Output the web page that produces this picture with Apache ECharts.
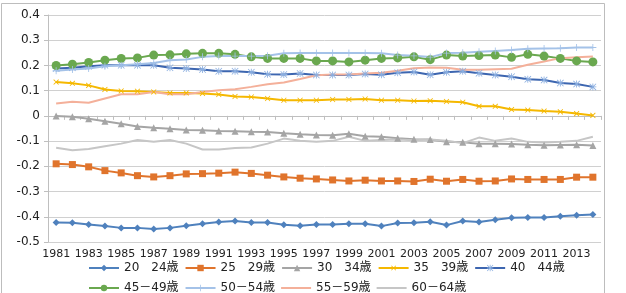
<!DOCTYPE html>
<html lang="ja">
<head>
<meta charset="UTF-8">
<title>年齢階級別</title>
<script src="https://cdn.jsdelivr.net/npm/echarts@6/dist/echarts.min.js"></script>
<style>
  html, body { margin: 0; padding: 0; background: #fff; }
  #main { width: 626px; height: 293px; }
</style>
</head>
<body>
<div id="main"></div>
<script type="text/javascript">
// 年 (1981-2014)
var years = [];
for (var y = 1981; y <= 2014; y++) { years.push(String(y)); }

var names = ['20　24歳', '25　29歳', '30　34歳', '35　39歳', '40　44歳',
             '45－49歳', '50－54歳', '55－59歳', '60－64歳'];

var age20 = [-0.423, -0.424, -0.431, -0.437, -0.444, -0.444, -0.448, -0.444, -0.436, -0.428,
             -0.421, -0.417, -0.423, -0.423, -0.432, -0.436, -0.431, -0.431, -0.428, -0.428,
             -0.437, -0.425, -0.424, -0.420, -0.433, -0.417, -0.421, -0.412, -0.404, -0.403,
             -0.403, -0.398, -0.394, -0.391];
var age25 = [-0.190, -0.193, -0.202, -0.217, -0.226, -0.237, -0.242, -0.237, -0.230, -0.229,
             -0.227, -0.223, -0.228, -0.235, -0.242, -0.247, -0.250, -0.254, -0.258, -0.255,
             -0.258, -0.258, -0.260, -0.251, -0.259, -0.252, -0.259, -0.258, -0.250, -0.252,
             -0.252, -0.252, -0.243, -0.243];
var age30 = [0.000, -0.003, -0.011, -0.021, -0.031, -0.042, -0.047, -0.051, -0.056, -0.057,
             -0.060, -0.061, -0.063, -0.064, -0.069, -0.073, -0.076, -0.077, -0.071, -0.081,
             -0.083, -0.089, -0.093, -0.094, -0.103, -0.105, -0.110, -0.110, -0.111, -0.114,
             -0.116, -0.115, -0.114, -0.117];
var age35 = [0.134, 0.129, 0.121, 0.105, 0.099, 0.098, 0.095, 0.091, 0.091, 0.089,
             0.085, 0.077, 0.075, 0.069, 0.062, 0.062, 0.062, 0.065, 0.065, 0.067,
             0.062, 0.062, 0.059, 0.060, 0.057, 0.054, 0.038, 0.038, 0.025, 0.023,
             0.019, 0.016, 0.009, 0.002];
var age40 = [0.188, 0.191, 0.197, 0.201, 0.201, 0.201, 0.201, 0.191, 0.188, 0.184,
             0.177, 0.177, 0.173, 0.165, 0.164, 0.168, 0.162, 0.162, 0.162, 0.166,
             0.163, 0.171, 0.174, 0.163, 0.173, 0.177, 0.169, 0.162, 0.155, 0.145,
             0.142, 0.130, 0.126, 0.115];
var age45 = [0.200, 0.205, 0.212, 0.221, 0.228, 0.230, 0.241, 0.242, 0.246, 0.248,
             0.248, 0.244, 0.234, 0.228, 0.228, 0.228, 0.218, 0.218, 0.214, 0.221,
             0.228, 0.230, 0.234, 0.223, 0.241, 0.237, 0.239, 0.241, 0.232, 0.244,
             0.237, 0.228, 0.218, 0.214];
var age50 = [0.179, 0.184, 0.188, 0.197, 0.201, 0.205, 0.210, 0.221, 0.224, 0.234,
             0.237, 0.237, 0.237, 0.238, 0.248, 0.249, 0.249, 0.249, 0.249, 0.249,
             0.248, 0.241, 0.238, 0.233, 0.249, 0.250, 0.254, 0.257, 0.261, 0.266,
             0.267, 0.268, 0.271, 0.271];
var age55 = [0.049, 0.056, 0.052, 0.069, 0.086, 0.086, 0.095, 0.086, 0.086, 0.095,
             0.102, 0.106, 0.115, 0.125, 0.132, 0.146, 0.161, 0.164, 0.164, 0.168,
             0.171, 0.179, 0.189, 0.192, 0.191, 0.183, 0.183, 0.185, 0.187, 0.203,
             0.216, 0.229, 0.232, 0.235];
var age60 = [-0.126, -0.136, -0.131, -0.120, -0.110, -0.096, -0.103, -0.096, -0.110, -0.133,
             -0.133, -0.127, -0.125, -0.110, -0.090, -0.099, -0.103, -0.099, -0.083, -0.099,
             -0.096, -0.094, -0.097, -0.094, -0.099, -0.108, -0.086, -0.099, -0.090, -0.103,
             -0.106, -0.103, -0.099, -0.083];

var yMin = -0.5, yMax = 0.4, yStep = 0.1;

var FONT = "'DejaVu Sans', 'Noto Sans CJK JP', sans-serif";

// マーカー
var symPlus = 'path://M4.4,0h1.2v4.4h4.4v1.2h-4.4v4.4h-1.2v-4.4h-4.4v-1.2h4.4z';
var symStar = 'path://M4.4,0h1.2v10h-1.2z M0,4.4h10v1.2h-10z M0.8,0L10,9.2L9.2,10L0,0.8z M9.2,0L10,0.8L0.8,10L0,9.2z';
// 凡例用（マーカーなしの線）
var iconLine = 'path://M0,0h30v2h-30z';

var myChart = echarts.init(document.getElementById('main'));

function lineSeries(name, data, color, symbol, size, symColor, width) {
    return {
        name: name,
        type: 'line',
        data: data,
        symbol: symbol,
        symbolSize: size,
        showSymbol: symbol !== 'none',
        lineStyle: { color: color, width: width || 2 },
        itemStyle: { color: symColor || color, borderWidth: 0 },
        emphasis: { disabled: true },
        animation: false
    };
}

var legendText = { fontSize: 12, color: '#222', fontFamily: FONT };

var option = {
    backgroundColor: '#fff',
    textStyle: { fontFamily: FONT },
    grid: { left: 48, right: 25, top: 15, bottom: 51 },
    xAxis: {
        type: 'category',
        data: years,
        boundaryGap: true,
        axisLine: { onZero: true, lineStyle: { color: '#bfbfbf', width: 1 } },
        axisTick: { show: true, interval: 0, length: 4, lineStyle: { color: '#bfbfbf' } },
        axisLabel: { interval: 1, color: '#222', fontSize: 11, fontFamily: FONT, margin: 7 },
        splitLine: { show: false }
    },
    yAxis: {
        type: 'value',
        min: yMin,
        max: yMax,
        interval: yStep,
        axisLine: { show: true, lineStyle: { color: '#bfbfbf' } },
        axisTick: { show: true, length: 4, lineStyle: { color: '#bfbfbf' } },
        axisLabel: {
            color: '#222', fontSize: 12, fontFamily: FONT, margin: 8,
            formatter: function (v) { return String(Math.round(v * 10) / 10); }
        },
        splitLine: { lineStyle: { color: '#d0d0d0', width: 1 } }
    },
    legend: [
        {
            data: names.slice(0, 5),
            left: 83, top: 257,
            itemWidth: 30, itemHeight: 8, itemGap: 6,
            textStyle: legendText
        },
        {
            data: [
                names[5],
                names[6],
                { name: names[7], icon: iconLine },
                { name: names[8], icon: iconLine }
            ],
            left: 83, top: 277,
            itemWidth: 30, itemHeight: 8, itemGap: 6,
            textStyle: legendText
        }
    ],
    graphic: [
        {
            type: 'rect', silent: true,
            shape: { x: 1.5, y: 3.5, width: 603, height: 300 },
            style: { fill: 'none', stroke: '#bdbdbd', lineWidth: 1 }
        }
    ],
    series: [
        lineSeries(names[0], age20, '#4f81bd', 'diamond', 7),
        lineSeries(names[1], age25, '#e0742c', 'rect', 7),
        lineSeries(names[2], age30, '#a5a5a5', 'triangle', 7),
        lineSeries(names[3], age35, '#f5b800', symPlus, 7, '#f5b800'),
        lineSeries(names[4], age40, '#3d66b0', symStar, 7, '#8aaee0'),
        lineSeries(names[5], age45, '#6aa84f', 'circle', 9),
        lineSeries(names[6], age50, '#a4c2e8', symPlus, 7),
        lineSeries(names[7], age55, '#f4b09a', 'none', 0),
        lineSeries(names[8], age60, '#c6c6c6', 'none', 0)
    ]
};
// 35-39歳のマーカーは×
option.series[3].symbolRotate = 45;

myChart.setOption(option);
</script>
</body>
</html>
